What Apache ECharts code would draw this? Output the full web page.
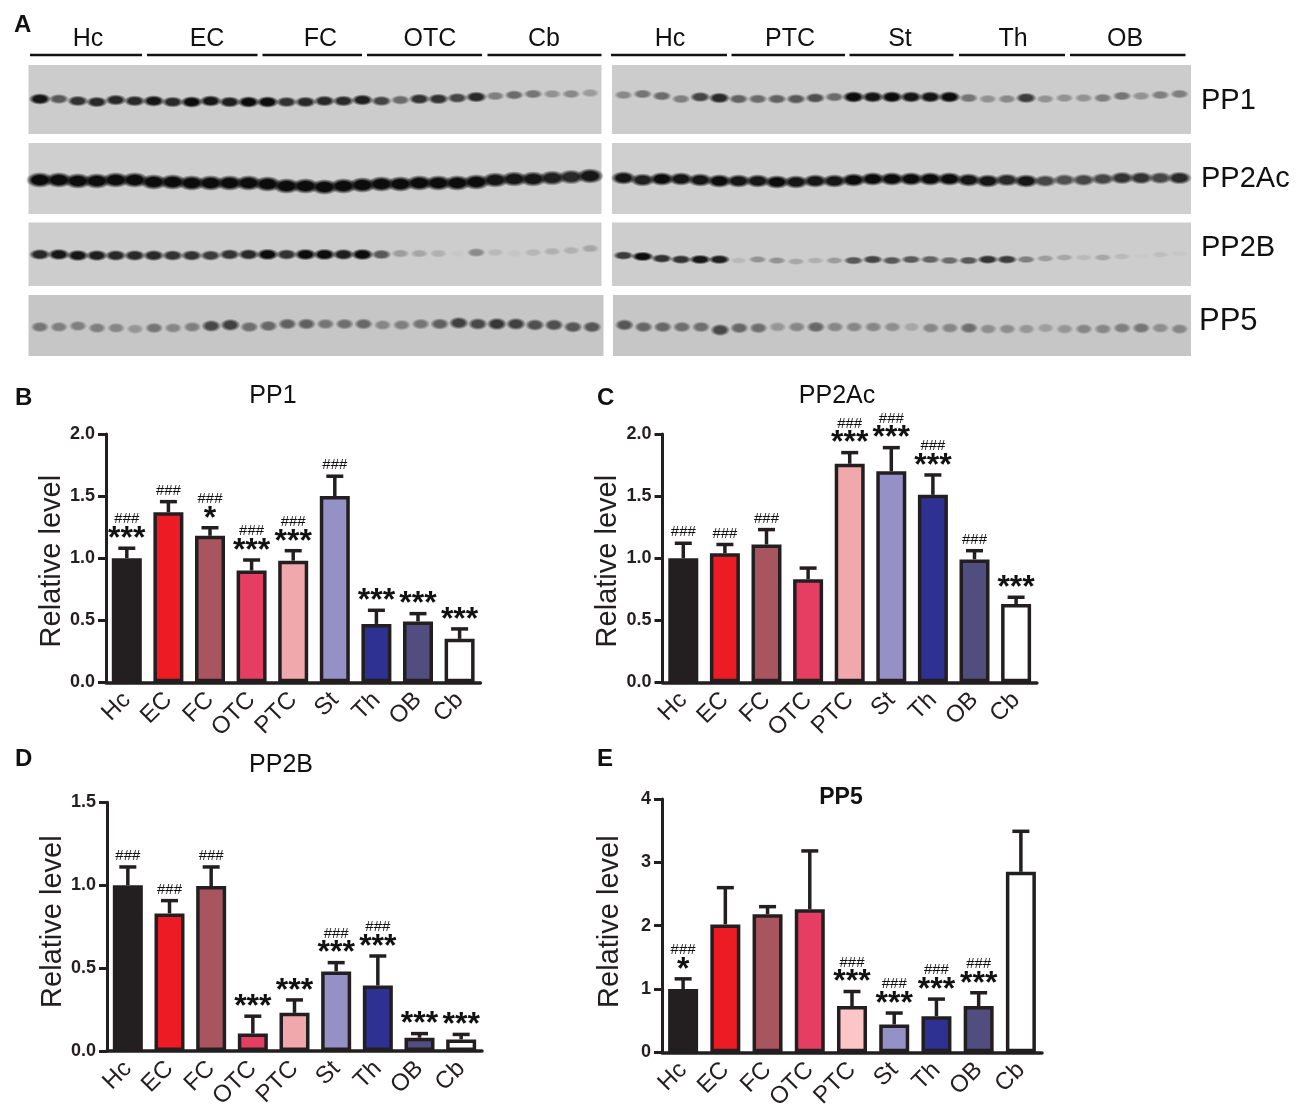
<!DOCTYPE html>
<html>
<head>
<meta charset="utf-8">
<title>PP blots</title>
<script src="https://cdn.jsdelivr.net/npm/echarts@6/dist/echarts.min.js"></script>
<style>
html,body{margin:0;padding:0;background:#fff;}
#main{width:1300px;height:1119px;}
</style>
</head>
<body>
<div id="main"></div>
<script>
var regions = ['Hc','EC','FC','OTC','PTC','St','Th','OB','Cb'];
var barColors = ['#231f20','#ed1c24','#a85560','#e63e62','#f0a8ac','#9590c5','#2e3192','#524d7f','#ffffff'];
var barColorsE = ['#231f20','#ed1c24','#a85560','#e63e62','#fcc6c8','#9590c5','#2e3192','#524d7f','#ffffff'];

// bar charts: mean, top of error bar, significance marks
var meanB = [1.0,1.37,1.18,0.9,0.98,1.5,0.47,0.49,0.35];
var topB = [1.08,1.455,1.245,0.985,1.06,1.66,0.58,0.553,0.43];
var starB = ['***','','*','***','***','','***','***','***'];
var hashB = [1,1,1,1,1,1,0,0,0];

var meanC = [1.0,1.04,1.11,0.83,1.76,1.7,1.51,0.99,0.63];
var topC = [1.12,1.11,1.23,0.92,1.85,1.89,1.67,1.06,0.685];
var starC = ['','','','','***','***','***','','***'];
var hashC = [1,1,1,0,1,1,1,1,0];

var meanD = [1.0,0.83,0.995,0.105,0.23,0.48,0.395,0.08,0.07];
var topD = [1.11,0.907,1.11,0.21,0.308,0.533,0.573,0.105,0.1];
var starD = ['','','','***','***','***','***','***','***'];
var hashD = [1,1,1,0,0,1,1,0,0];

var meanE = [1.0,2.02,2.18,2.26,0.73,0.44,0.57,0.73,2.85];
var topE = [1.16,2.6,2.3,3.18,0.96,0.62,0.84,0.94,3.49];
var starE = ['*','','','','***','***','***','***',''];
var hashE = [1,0,0,0,1,1,1,1,0];

// blots: band height inside the strip and darkness, lane by lane
var pp1LeftY = [34,34,36,37,35,36,36,37,37,36,37,37,37,37,37,36,36,35,36,35,34,34,33,32,31,30,29,29,29,28];
var pp1LeftD = [.95,.6,.8,.85,.85,.85,.95,.85,1,.95,.9,1,1,.8,.85,.85,.85,.9,.7,.5,.8,.8,.7,.85,.4,.5,.45,.3,.35,.25];
var pp1RightY = [30,29,31,34,32,33,34,34,34,34,33,32,32,32,32,32,32,32,33,34,34,33,34,33,33,33,31,31,30,29];
var pp1RightD = [.35,.45,.5,.4,.7,.85,.55,.5,.55,.6,.65,.5,1,.95,1,.95,.95,1,.45,.3,.35,.75,.3,.3,.3,.4,.45,.3,.4,.4];
var pp2aLeftY = [37,37,38,38,37,37,39,39,40,40,40,40,41,43,43,44,43,42,41,41,40,40,40,39,37,36,36,35,34,33];
var pp2aLeftD = [1,1,1,1,1,1,1,1,1,1,1,1,1,1,1,1,1,1,1,1,1,1,1,1,.95,.95,.95,.9,.85,.95];
var pp2aRightY = [35,37,36,36,37,38,38,38,39,39,38,38,37,36,36,36,36,36,37,38,37,38,38,37,37,36,35,35,35,35];
var pp2aRightD = [.95,.9,1,.95,.95,1,.95,.95,1,.95,.95,.95,1,1,1,1,1,1,.95,.95,.85,.95,.7,.65,.7,.7,.8,.8,.7,.85];
var pp2bLeftY = [32,32,33,33,33,33,33,33,33,33,32,32,32,32,32,32,32,32,32,31,31,31,31,30,30,31,30,29,28,26];
var pp2bLeftD = [.85,.95,.95,.9,.85,.85,.85,.8,.8,.75,.8,.85,1,.8,1,1,.9,1,.6,.25,.2,.15,.03,.35,.1,.04,.12,.15,.15,.2];
var pp2bRightY = [33,34,36,37,37,37,38,37,38,39,38,38,38,37,38,37,37,38,38,37,37,37,36,35,35,35,34,34,32,31];
var pp2bRightD = [.75,1,.8,.8,.95,.9,.1,.3,.3,.2,.15,.25,.6,.7,.6,.6,.55,.5,.6,.8,.75,.4,.25,.2,.1,.2,.1,.02,.08,.03];
var pp5LeftY = [32,32,31,33,33,34,33,33,32,31,30,32,31,29,29,29,29,29,30,30,29,29,28,29,29,29,30,30,32,32];
var pp5LeftD = [.43,.38,.38,.38,.34,.26,.43,.34,.38,.68,.72,.47,.51,.55,.55,.43,.47,.51,.34,.38,.43,.55,.72,.68,.77,.72,.64,.64,.6,.6];
var pp5RightY = [30,32,32,32,32,35,33,33,32,32,32,32,32,32,32,32,33,33,33,34,34,34,33,34,34,34,33,33,33,34];
var pp5RightD = [.6,.51,.51,.47,.47,.68,.51,.47,.26,.34,.51,.34,.34,.34,.3,.17,.34,.34,.47,.3,.3,.26,.21,.26,.34,.34,.38,.43,.3,.34];

var FONT = '"Liberation Sans", Arial, sans-serif';
var INK = '#231f20';

var myChart = echarts.init(document.getElementById('main'));

var grids = [], xAxes = [], yAxes = [], series = [], graphics = [];

function addBarPanel(box, maxY, step, decimals, means, tops, stars, hashes, colors, namePad) {
    var idx = grids.length;
    grids.push({left: box[0], top: box[1], width: box[2], height: box[3], containLabel: false});
    xAxes.push({
        gridIndex: idx, type: 'category', data: regions,
        axisLine: {lineStyle: {color: INK, width: 3.5}},
        axisTick: {alignWithLabel: true, length: 8, lineStyle: {color: INK, width: 3}},
        axisLabel: {interval: 0, rotate: 45, margin: 14, color: INK, fontFamily: FONT, fontSize: 24}
    });
    yAxes.push({
        gridIndex: idx, type: 'value', min: 0, max: maxY, interval: step,
        name: 'Relative level', nameLocation: 'middle', nameGap: 38, nameRotate: 90,
        nameTextStyle: {color: INK, fontFamily: FONT, fontSize: 29, padding: namePad},
        splitLine: {show: false},
        axisLine: {show: true, onZero: false, lineStyle: {color: INK, width: 3}},
        axisTick: {show: true, length: 8, lineStyle: {color: INK, width: 3}},
        axisLabel: {
            margin: 11, color: INK, fontFamily: FONT, fontSize: 18, fontWeight: 'bold',
            formatter: function (v) { return v.toFixed(decimals); }
        }
    });
    series.push({
        type: 'bar', xAxisIndex: idx, yAxisIndex: idx, barWidth: 30,
        data: means.map(function (v, i) {
            return {value: v, itemStyle: {color: colors[i], borderColor: INK, borderWidth: 3.5}};
        })
    });
    series.push({
        type: 'custom', xAxisIndex: idx, yAxisIndex: idx, z: 5,
        encode: {x: 0, y: 1},
        data: tops.map(function (v, i) { return [i, v, means[i]]; }),
        renderItem: function (params, api) {
            var i = api.value(0);
            var a = api.coord([i, api.value(1)]);
            var b = api.coord([i, api.value(2)]);
            var line = {stroke: INK, lineWidth: 3.5};
            var kids = [
                {type: 'line', shape: {x1: a[0], y1: a[1], x2: b[0], y2: b[1]}, style: line},
                {type: 'line', shape: {x1: a[0] - 8.5, y1: a[1], x2: a[0] + 8.5, y2: a[1]}, style: line}
            ];
            if (stars[i]) {
                kids.push({type: 'text', style: {
                    x: a[0], y: a[1] - 9, text: stars[i], fill: '#111',
                    font: 'bold 32px ' + FONT, textAlign: 'center', textVerticalAlign: 'middle'
                }});
            }
            if (hashes[i]) {
                kids.push({type: 'text', style: {
                    x: a[0], y: a[1] - (stars[i] ? 29 : 11), text: '###', fill: '#111',
                    font: '15px ' + FONT, textAlign: 'center', textVerticalAlign: 'middle'
                }});
            }
            return {type: 'group', children: kids};
        }
    });
}

function addBlot(box, bg, bandSize, ys, darks) {
    var idx = grids.length;
    grids.push({show: true, left: box[0], top: box[1], width: box[2], height: box[3], backgroundColor: bg, borderWidth: 0});
    xAxes.push({gridIndex: idx, type: 'value', min: -0.6, max: 29.6, show: false});
    yAxes.push({gridIndex: idx, type: 'value', min: 0, max: box[3], inverse: true, show: false});
    series.push({
        type: 'custom', xAxisIndex: idx, yAxisIndex: idx,
        encode: {x: 0, y: 1},
        data: ys.map(function (y, i) { return [i, y, darks[i]]; }),
        renderItem: function (params, api) {
            var p = api.coord([api.value(0), api.value(1)]);
            var d = api.value(2);
            var ry = bandSize[1] * (0.65 + 0.35 * d);
            var rx = bandSize[0] * (0.75 + 0.25 * d);
            // gradient stays round in its own box, so stretch a circle into the band
            return {
                type: 'circle', x: p[0], y: p[1], scaleX: rx / ry,
                shape: {cx: 0, cy: 0, r: ry},
                style: {fill: new echarts.graphic.RadialGradient(0.5, 0.5, 0.5, [
                    {offset: 0, color: 'rgba(12,12,12,' + d + ')'},
                    {offset: 0.55, color: 'rgba(12,12,12,' + d + ')'},
                    {offset: 1, color: 'rgba(12,12,12,0)'}
                ])}
            };
        }
    });
}

function addText(str, x, y, size, weight, align) {
    graphics.push({type: 'text', z: 10, style: {
        x: x, y: y, text: str, fill: '#111',
        font: (weight || 'normal') + ' ' + size + 'px ' + FONT,
        textAlign: align || 'center', textVerticalAlign: 'middle'
    }});
}

function addLaneHeader(str, x1, x2, textX) {
    addText(str, textX, 39, 25);
    graphics.push({type: 'line', z: 10, shape: {x1: x1, y1: 55, x2: x2, y2: 55}, style: {stroke: '#111', lineWidth: 2.5}});
}

addBarPanel([106, 434, 374.4, 248.3], 2, 0.5, 1, meanB, topB, starB, hashB, barColors, [0, 6, 0, 0]);
addBarPanel([662.5, 434, 374.4, 248.3], 2, 0.5, 1, meanC, topC, starC, hashC, barColors, [0, 6, 0, 0]);
addBarPanel([107, 802.3, 375, 248.7], 1.5, 0.5, 1, meanD, topD, starD, hashD, barColors, [0, 0, 0, 10]);
addBarPanel([662, 799, 380, 253.3], 4, 1, 0, meanE, topE, starE, hashE, barColorsE, [0, 0, 0, 8]);

addBlot([28.5, 65, 573, 69], '#cccccc', [11.5, 6], pp1LeftY, pp1LeftD);
addBlot([612, 65, 579, 69], '#cccccc', [11.5, 6], pp1RightY, pp1RightD);
addBlot([28.5, 143, 573, 71], '#cfcfcf', [14, 8], pp2aLeftY, pp2aLeftD);
addBlot([612, 143, 579, 71], '#cfcfcf', [13, 7], pp2aRightY, pp2aRightD);
addBlot([28.5, 222.5, 573, 63.5], '#cdcdcd', [11.5, 6], pp2bLeftY, pp2bLeftD);
addBlot([612, 222.5, 579, 63.5], '#cdcdcd', [11.5, 5], pp2bRightY, pp2bRightD);
addBlot([28.5, 295, 575, 61], '#c6c6c6', [11, 7], pp5LeftY, pp5LeftD);
addBlot([613, 295, 578, 61], '#c6c6c6', [11, 7], pp5RightY, pp5RightD);

addLaneHeader('Hc', 30, 142, 88);
addLaneHeader('EC', 147, 257.5, 207);
addLaneHeader('FC', 262.5, 362, 320.5);
addLaneHeader('OTC', 367, 482, 430);
addLaneHeader('Cb', 487.5, 601.5, 544);
addLaneHeader('Hc', 611, 727, 670);
addLaneHeader('PTC', 731.5, 845, 790);
addLaneHeader('St', 849.5, 953.5, 900);
addLaneHeader('Th', 959, 1065, 1013);
addLaneHeader('OB', 1070, 1185.5, 1125);

addText('PP1', 1201, 101, 29, 'normal', 'left');
addText('PP2Ac', 1201, 179, 29, 'normal', 'left');
addText('PP2B', 1201, 248, 29, 'normal', 'left');
addText('PP5', 1199, 321, 31, 'normal', 'left');

addText('A', 14, 25, 24, 'bold', 'left');
addText('B', 15, 398, 24, 'bold', 'left');
addText('C', 597, 398, 24, 'bold', 'left');
addText('D', 15, 759, 24, 'bold', 'left');
addText('E', 597, 759, 24, 'bold', 'left');

addText('PP1', 273, 396, 25);
addText('PP2Ac', 837, 396, 25);
addText('PP2B', 281, 765, 25);
addText('PP5', 841, 798, 23, 'bold');

var option = {
    backgroundColor: '#fff',
    animation: false,
    tooltip: {},
    grid: grids,
    xAxis: xAxes,
    yAxis: yAxes,
    series: series,
    graphic: graphics
};
myChart.setOption(option);
</script>
</body>
</html>
